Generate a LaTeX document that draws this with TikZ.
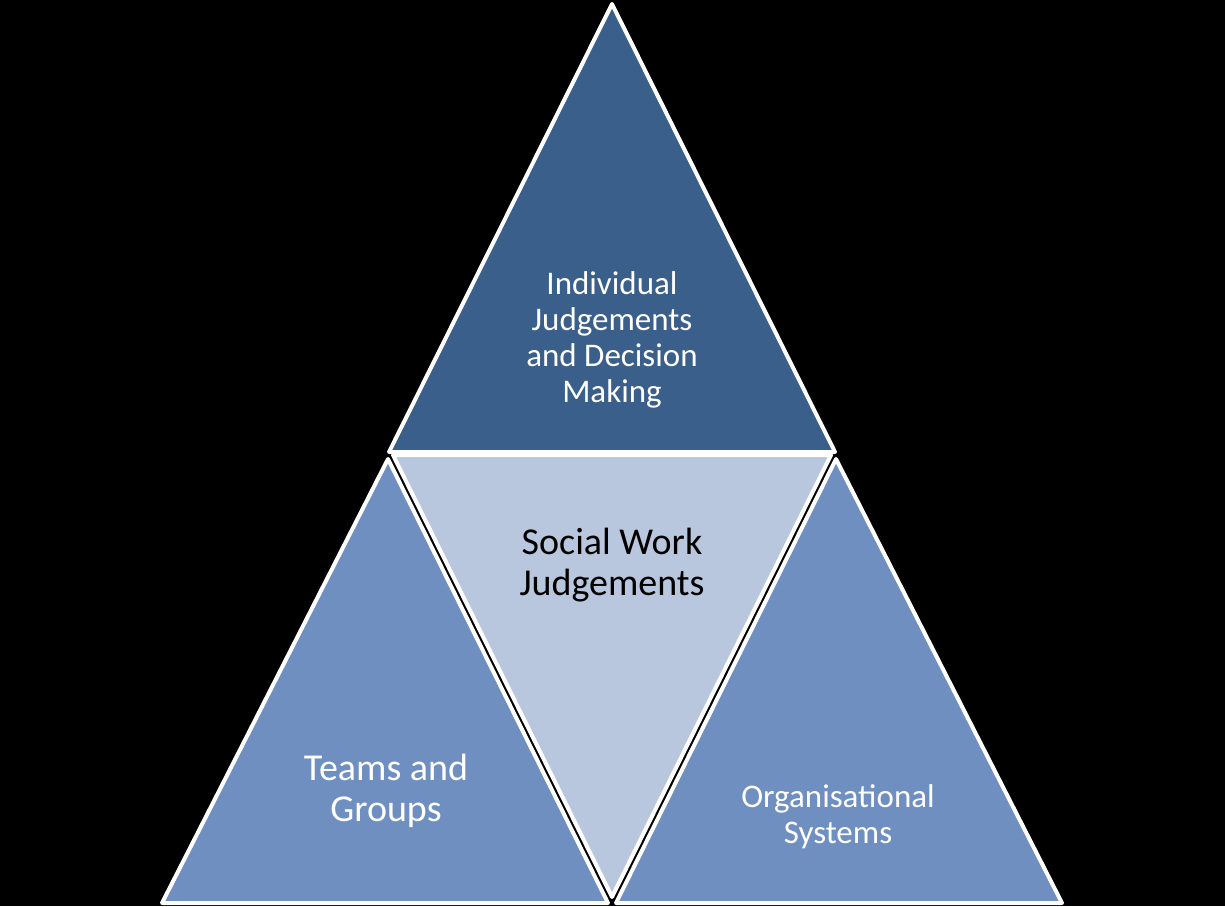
\documentclass[tikz,border=0pt]{standalone}
\usepackage{fontspec}
\setmainfont{Carlito}
\definecolor{topc}{HTML}{3A5F8B}
\definecolor{sidec}{HTML}{6F8FC0}
\definecolor{midc}{HTML}{B9C7DE}
\begin{document}
\begin{tikzpicture}[x=1pt,y=-1pt,
  tri/.style={draw=white,line width=4pt,line join=round},
  lbl/.style={align=center,font=\fontsize{33}{36}\selectfont,text=white,inner sep=0pt},
  biglbl/.style={align=center,font=\fontsize{38}{40.5}\selectfont,inner sep=0pt}]
\fill[black] (0,0) rectangle (1225,906);
\useasboundingbox (0,0) rectangle (1225,906);
\filldraw[tri,fill=topc] (612,4) -- (389,452) -- (835,452) -- cycle;
\filldraw[tri,fill=midc] (393,455) -- (831,455) -- (612,897) -- cycle;
\filldraw[tri,fill=sidec] (388,459) -- (162,903) -- (608,903) -- cycle;
\filldraw[tri,fill=sidec] (836,459) -- (616,903) -- (1062,903) -- cycle;
\node[lbl] (ind) at (612,340) {Individual\\Judgements\\and Decision\\Making};
\node[biglbl,text=black] (soc) at (612,565) {Social Work\\Judgements};
\node[biglbl,text=white] (team) at (386,791) {Teams and\\Groups};
\node[lbl] (org) at (838,817) {Organisational\\Systems};
\end{tikzpicture}
\end{document}
